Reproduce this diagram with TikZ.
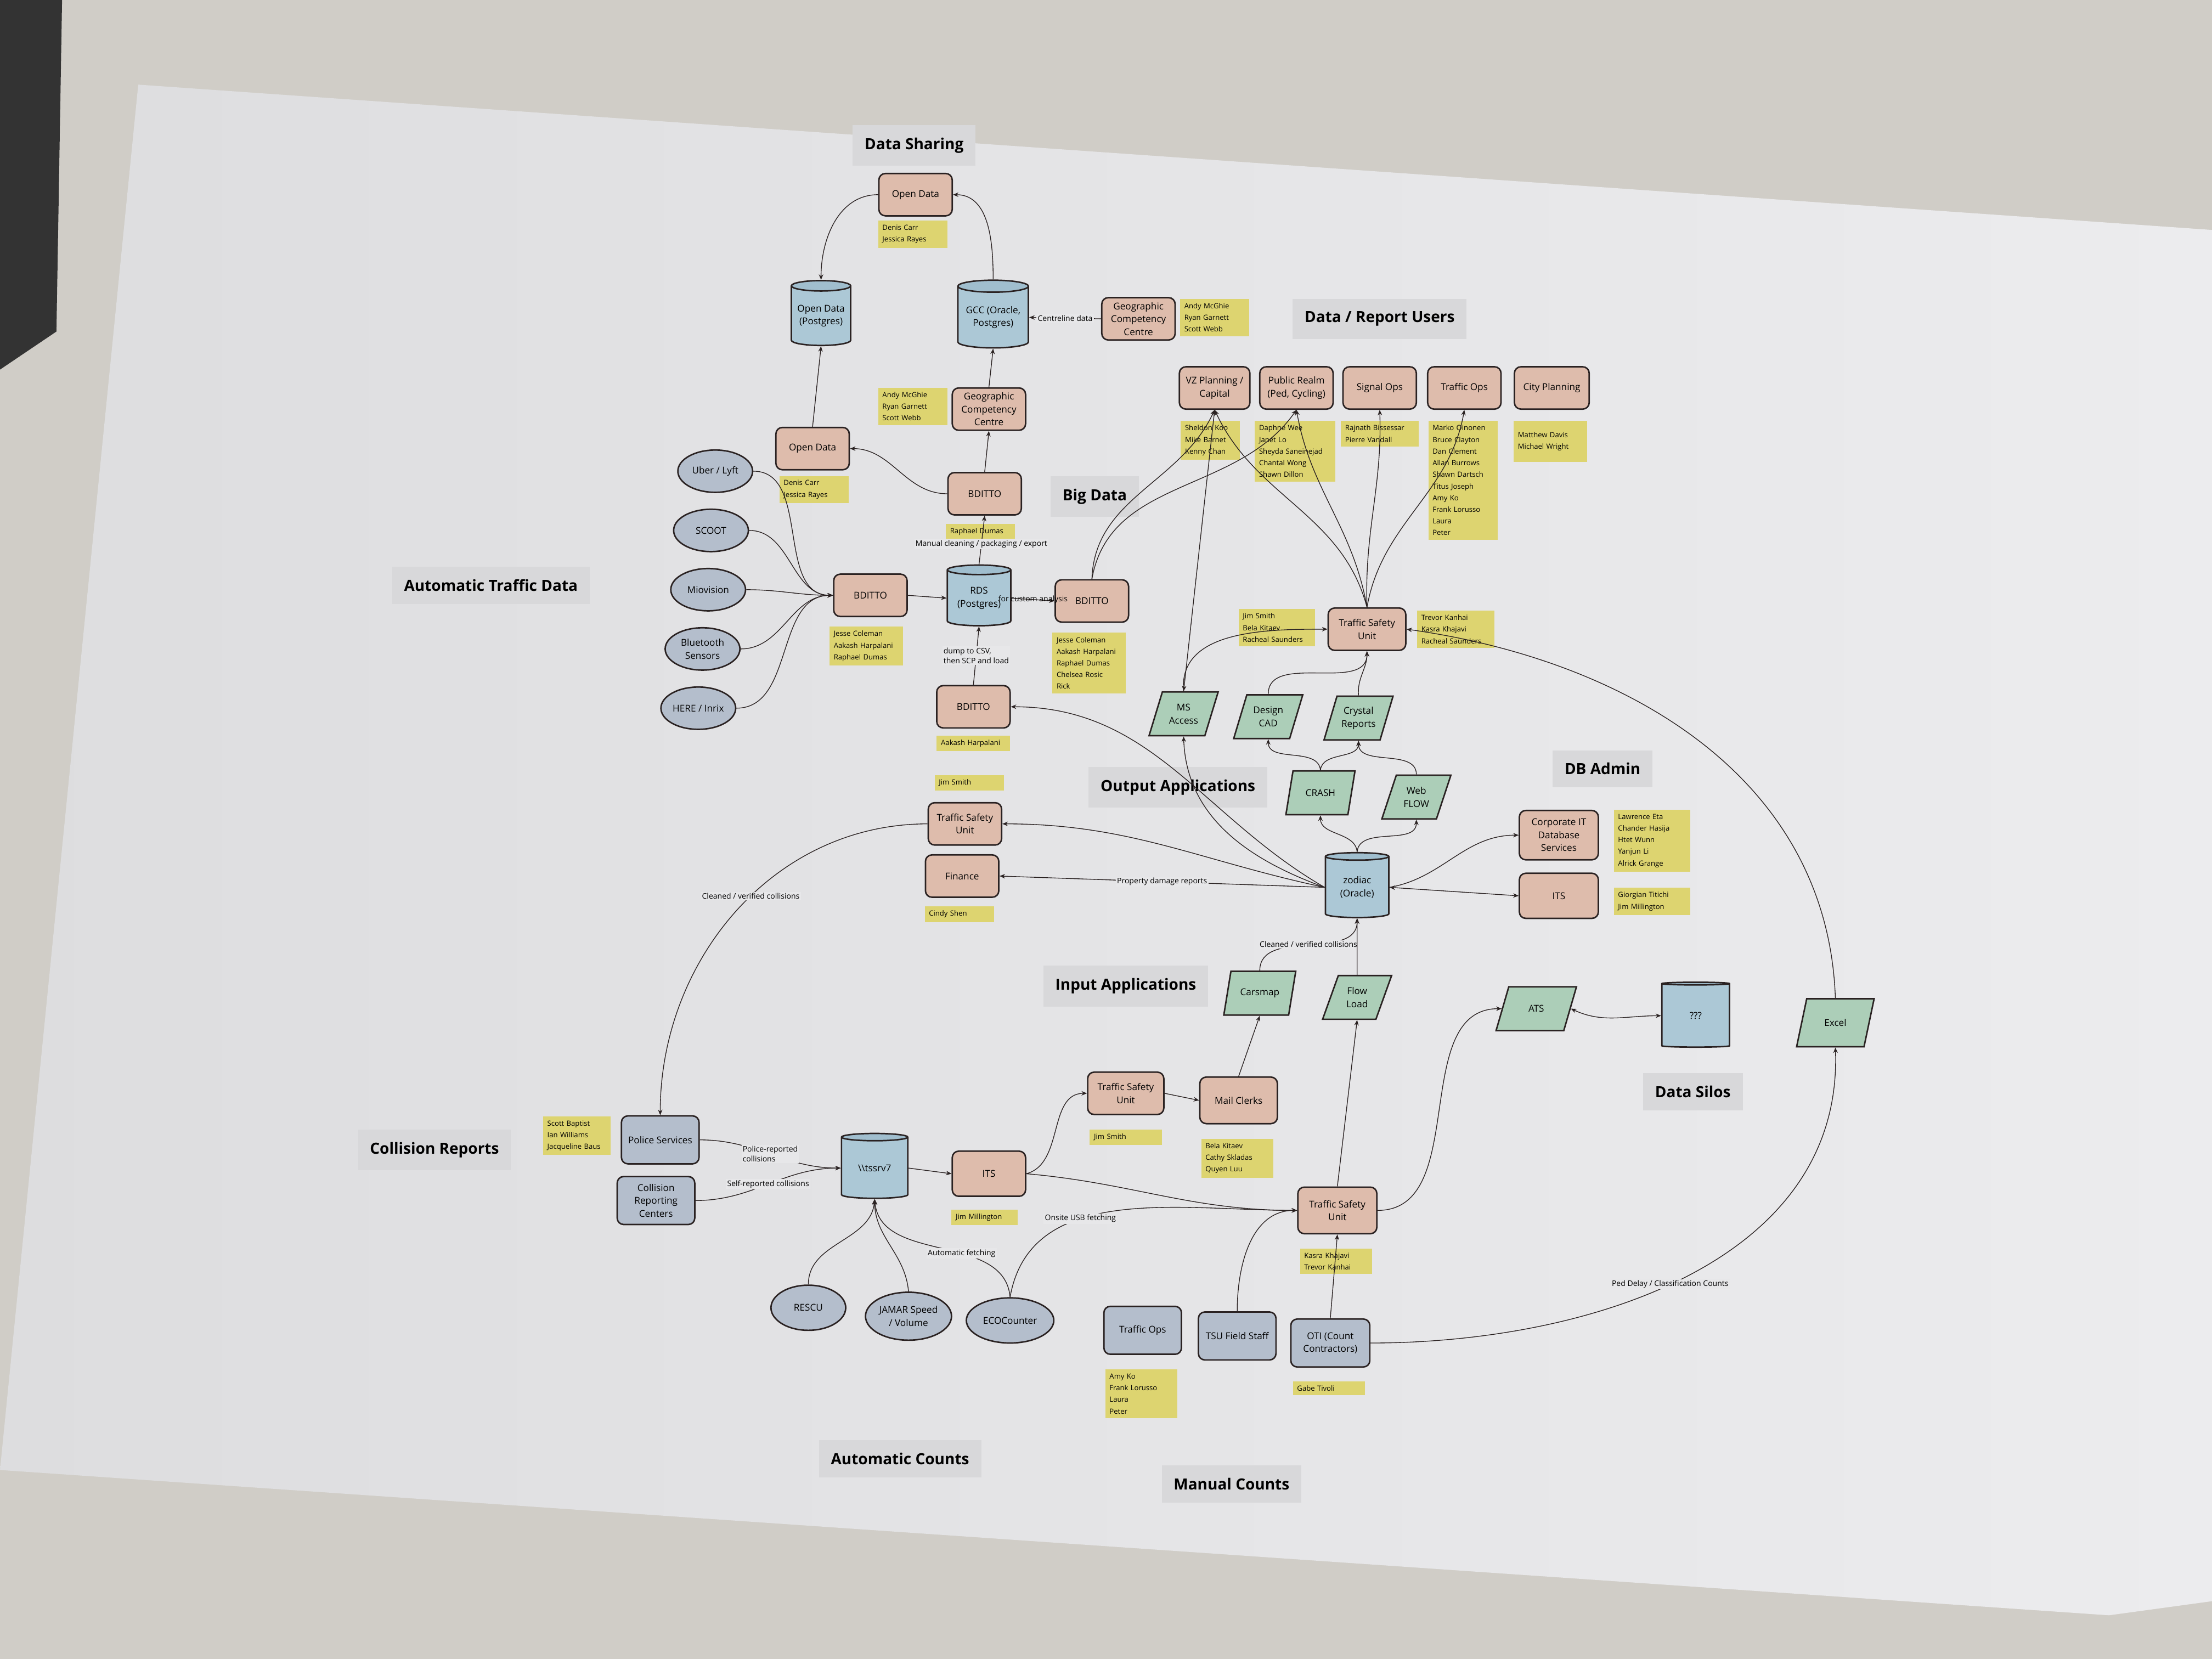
\documentclass[tikz,border=0pt]{standalone}
\usepackage{fontspec}
\setmainfont{Open Sans}
\usepackage{tikz}
\usetikzlibrary{shapes.geometric, arrows.meta, positioning}
\definecolor{wallgray}{RGB}{208,205,199}
\definecolor{papergray}{RGB}{231,231,233}
\definecolor{paperleft}{RGB}{221,221,223}
\definecolor{paperright}{RGB}{236,236,238}
\definecolor{hdrgray}{RGB}{216,216,218}
\definecolor{teamfill}{RGB}{222,188,172}
\definecolor{srcfill}{RGB}{180,190,204}
\definecolor{dbfill}{RGB}{172,200,214}
\definecolor{dbtop}{RGB}{160,190,206}
\definecolor{appfill}{RGB}{172,206,184}
\definecolor{notefill}{RGB}{221,212,112}
\definecolor{inkdark}{RGB}{42,34,34}
\newcommand{\nodefont}{\fontsize{3.8}{5.2}\selectfont}
\newcommand{\namefont}{\fontsize{2.9}{4.7}\selectfont}
\newcommand{\edgefont}{\fontsize{3.1}{4.1}\selectfont}
\newcommand{\titlefont}{\fontsize{6.2}{7}\selectfont\bfseries}
\tikzset{
  team/.style={rectangle, rounded corners=2.6pt, draw=inkdark, fill=teamfill,
    line width=0.6pt, minimum width=1.04cm, minimum height=0.6cm,
    align=center, font=\nodefont, inner sep=1pt},
  source/.style={team, fill=srcfill, minimum width=1.1cm, minimum height=0.68cm},
  feed/.style={ellipse, draw=inkdark, fill=srcfill, line width=0.6pt,
    minimum width=1.06cm, minimum height=0.6cm, align=center, font=\nodefont, inner sep=0pt},
  app/.style={trapezium, trapezium stretches=true, trapezium left angle=66,
    trapezium right angle=114, draw=inkdark, fill=appfill, line width=0.6pt,
    minimum width=0.98cm, minimum height=0.62cm, align=center, font=\nodefont, inner sep=0.5pt},
  dbase/.style={cylinder, shape border rotate=90, aspect=0.22, draw=inkdark,
    line width=0.6pt, cylinder uses custom fill, cylinder body fill=dbfill,
    cylinder end fill=dbtop, minimum width=0.9cm, minimum height=0.92cm,
    align=center, font=\nodefont, inner sep=0pt},
  names/.style={rectangle, fill=notefill, text width=#1, align=left,
    font=\namefont, inner xsep=0.06cm, inner ysep=0.06cm},
  names/.default=0.86cm,
  header/.style={rectangle, fill=hdrgray, font=\titlefont, inner xsep=0.17cm, inner ysep=0.18cm},
  arrow/.style={arrows={-Stealth[length=2.2pt,width=1.8pt]}, line width=0.3pt, draw=inkdark},
  twoway/.style={arrows={Stealth[length=2.2pt,width=1.8pt]-Stealth[length=2.2pt,width=1.8pt]}, line width=0.3pt, draw=inkdark},
  edgetext/.style={font=\edgefont, fill=papergray, inner sep=0.5pt}
}

\begin{document}
\begin{tikzpicture}[x=0.02cm, y=-0.02cm]
  \useasboundingbox (0,0) rectangle (1568,1176);
  % wall and poster
  \fill[wallgray] (0,0) rectangle (1568,1176);
  \fill[black!80] (0,0) -- (44,0) -- (40,235) -- (0,262) -- cycle;
  \shade[left color=paperleft, right color=paperright] (98,60) -- (1568,163) -- (1568,1135) -- (1495,1145) -- (0,1042) -- cycle;

  % Data Sharing
  \node[header] (hshare) at (648,103) {Data Sharing};
  \node[team] (odtop) at (649,138) {Open Data};
  \node[names] (nodtop) at (647,166) {Denis Carr\\Jessica Rayes};
  \node[dbase, minimum width=0.84cm] (odpg) at (582,224) {Open Data\\(Postgres)};
  \node[dbase, minimum width=1.0cm, minimum height=0.96cm] (gcc) at (704,225) {GCC (Oracle,\\Postgres)};
  \node[team] (geotop) at (807,226) {Geographic\\Competency\\Centre};
  \node[names] (ngeotop) at (861,225) {Andy McGhie\\Ryan Garnett\\Scott Webb};
  \node[team] (odmid) at (576,318) {Open Data};
  \node[names] (nodmid) at (577,347) {Denis Carr\\Jessica Rayes};
  \node[team] (geomid) at (701,290) {Geographic\\Competency\\Centre};
  \node[names] (ngeomid) at (647,288) {Andy McGhie\\Ryan Garnett\\Scott Webb};

  % Big Data
  \node[header] (hbig) at (776,352) {Big Data};
  \node[team] (bdexp) at (698,350) {BDITTO};
  \node[names] (nbdexp) at (695,377) {Raphael Dumas};
  \node[dbase, minimum height=0.86cm] (rds) at (694,424) {RDS\\(Postgres)};
  \node[team] (bdin) at (617,422) {BDITTO};
  \node[names=0.92cm] (nbdin) at (614,458) {Jesse Coleman\\Aakash Harpalani\\Raphael Dumas};
  \node[team] (bdan) at (774,426) {BDITTO};
  \node[names=0.92cm] (nbdan) at (772,470) {Jesse Coleman\\Aakash Harpalani\\Raphael Dumas\\Chelsea Rosic\\Rick};
  \node[team] (bdload) at (690,501) {BDITTO};
  \node[names=0.92cm] (nbdload) at (690,527) {Aakash Harpalani};

  % Automatic Traffic Data
  \node[header] (hatd) at (348,415) {Automatic Traffic Data};
  \node[feed] (uber) at (507,334) {Uber / Lyft};
  \node[feed] (scoot) at (504,376) {SCOOT};
  \node[feed] (mio) at (502,418) {Miovision};
  \node[feed] (bt) at (498,460) {Bluetooth\\Sensors};
  \node[feed] (here) at (495,502) {HERE / Inrix};

  % Data / Report Users
  \node[header] (husers) at (978,226) {Data / Report Users};
  \node[team, minimum width=1.0cm] (vz) at (861,275) {VZ Planning /\\Capital};
  \node[team, minimum width=1.04cm] (realm) at (919,275) {Public Realm\\(Ped, Cycling)};
  \node[team, minimum width=1.04cm] (sigops) at (978,275) {Signal Ops};
  \node[team, minimum width=1.04cm] (trops) at (1038,275) {Traffic Ops};
  \node[team, minimum width=1.06cm] (cityp) at (1100,275) {City Planning};
  \node[names=0.72cm, anchor=north] (nvz) at (858,298) {Sheldon Koo\\Mike Barnet\\Kenny Chan};
  \node[names=1.02cm, anchor=north] (nrealm) at (918,298) {Daphne Wee\\Janet Lo\\Sheyda Saneinejad\\Chantal Wong\\Shawn Dillon};
  \node[names=0.98cm, anchor=north] (nsig) at (978,298) {Rajnath Bissessar\\Pierre Vandall};
  \node[names=0.86cm, anchor=north] (ntrops) at (1037,298) {Marko Oinonen\\Bruce Clayton\\Dan Clement\\Allan Burrows\\Shawn Dartsch\\Titus Joseph\\Amy Ko\\Frank Lorusso\\Laura\\Peter};
  \node[names=0.92cm, anchor=north, minimum height=0.58cm] (ncity) at (1099,298) {Matthew Davis\\Michael Wright};

  % Traffic Safety Unit (outputs)
  \node[team, minimum width=1.1cm] (tsuout) at (969,446) {Traffic Safety\\Unit};
  \node[names=0.96cm] (ntsuoutl) at (905,445) {Jim Smith\\Bela Kitaev\\Racheal Saunders};
  \node[names=0.98cm] (ntsuoutr) at (1032,446) {Trevor Kanhai\\Kasra Khajavi\\Racheal Saunders};

  % Output Applications
  \node[header] (hout) at (835,558) {Output Applications};
  \node[app] (msacc) at (839,506) {MS\\Access};
  \node[app] (cad) at (899,508) {Design\\CAD};
  \node[app] (crystal) at (963,509) {Crystal\\Reports};
  \node[app] (crash) at (936,562) {CRASH};
  \node[app] (webflow) at (1004,565) {Web\\FLOW};

  % zodiac hub
  \node[names] (ntsucr) at (687,555) {Jim Smith};
  \node[team] (tsucr) at (684,584) {Traffic Safety\\Unit};
  \node[team] (fin) at (682,621) {Finance};
  \node[names] (nfin) at (680,648) {Cindy Shen};
  \node[dbase] (zodiac) at (962,629) {zodiac\\(Oracle)};

  % DB Admin
  \node[header] (hdba) at (1136,545) {DB Admin};
  \node[team, minimum width=1.12cm, minimum height=0.7cm] (corpit) at (1105,592) {Corporate IT\\Database\\Services};
  \node[names=0.96cm] (ncorpit) at (1171,596) {Lawrence Eta\\Chander Hasija\\Htet Wunn\\Yanjun Li\\Alrick Grange};
  \node[team, minimum width=1.12cm, minimum height=0.64cm] (itsdba) at (1105,635) {ITS};
  \node[names=0.96cm] (nitsdba) at (1171,639) {Giorgian Titichi\\Jim Millington};

  % Input Applications
  \node[header] (hin) at (798,699) {Input Applications};
  \node[app, minimum width=1.02cm] (carsmap) at (893,704) {Carsmap};
  \node[app] (flowload) at (962,707) {Flow\\Load};
  \node[team, minimum width=1.08cm] (tsumail) at (798,775) {Traffic Safety\\Unit};
  \node[names=0.9cm] (ntsumail) at (798,806) {Jim Smith};
  \node[team, minimum width=1.1cm, minimum height=0.66cm] (mail) at (878,780) {Mail Clerks};
  \node[names=0.9cm] (nmail) at (877,821) {Bela Kitaev\\Cathy Skladas\\Quyen Luu};

  % Data Silos
  \node[header] (hsilo) at (1200,774) {Data Silos};
  \node[app, minimum width=1.14cm] (ats) at (1089,715) {ATS};
  \node[dbase, minimum width=0.96cm] (unknown) at (1202,720) {???};
  \node[app, minimum width=1.1cm, minimum height=0.68cm] (excel) at (1301,725) {Excel};

  % Collision Reports
  \node[header] (hcoll) at (308,815) {Collision Reports};
  \node[names=0.84cm] (npolice) at (409,805) {Scott Baptist\\Ian Williams\\Jacqueline Baus};
  \node[source] (police) at (468,808) {Police Services};
  \node[source] (crc) at (465,851) {Collision\\Reporting\\Centers};
  \node[dbase, minimum width=0.94cm] (tssrv) at (620,828) {\textbackslash\textbackslash tssrv7};
  \node[team, minimum height=0.64cm] (itscoll) at (701,832) {ITS};
  \node[names=0.82cm] (nitscoll) at (698,863) {Jim Millington};
  \node[team, minimum width=1.12cm, minimum height=0.66cm] (tsucount) at (948,858) {Traffic Safety\\Unit};
  \node[names=0.9cm] (ntsucount) at (947,894) {Kasra Khajavi\\Trevor Kanhai};

  % Automatic Counts
  \node[header] (hauto) at (638,1034) {Automatic Counts};
  \node[feed, minimum height=0.64cm] (rescu) at (573,927) {RESCU};
  \node[feed, minimum width=1.22cm, minimum height=0.68cm] (jamar) at (644,933) {JAMAR Speed\\/ Volume};
  \node[feed, minimum width=1.24cm, minimum height=0.64cm] (eco) at (716,936) {ECOCounter};

  % Manual Counts
  \node[header] (hman) at (873,1052) {Manual Counts};
  \node[source] (tropsman) at (810,943) {Traffic Ops};
  \node[names=0.9cm] (ntropsman) at (809,988) {Amy Ko\\Frank Lorusso\\Laura\\Peter};
  \node[source] (tsufield) at (877,947) {TSU Field Staff};
  \node[source, minimum width=1.12cm] (oti) at (943,952) {OTI (Count\\Contractors)};
  \node[names=0.9cm] (noti) at (942,984) {Gabe Tivoli};

  % Sharing paths
  \draw[arrow] (gcc.north) to[out=90, in=0] (odtop.east);
  \draw[arrow] (odtop.west) to[out=180, in=90] (odpg.north);
  \draw[arrow] (geotop.west) -- (gcc.east) node[midway, edgetext] {Centreline data};
  \draw[arrow] (odmid.north) -- (odpg.south);
  \draw[arrow] (geomid.north) -- (gcc.south);
  \draw[arrow] (bdexp.north) -- (geomid.south);
  \draw[arrow] (bdexp.west) to[out=180, in=0] (odmid.east);

  % Big Data paths
  \draw[arrow] (rds.north) -- (bdexp.south) node[pos=0.42, edgetext] {Manual cleaning / packaging / export};
  \draw[arrow] (bdin.east) -- (rds.west);
  \foreach \src in {uber, scoot, mio, bt, here}
    \draw[arrow] (\src.east) to[out=0, in=180] (bdin.west);
  \draw[arrow] (rds.east) -- (bdan.west) node[midway, font=\edgefont] {for custom analysis};
  \draw[arrow] (bdload.north) -- (rds.south) node[midway, edgetext, align=left] {dump to CSV,\\then SCP and load};
  \draw[arrow] (bdan.north) to[out=88, in=245] (vz.south);
  \draw[arrow] (bdan.north) to[out=80, in=235] (realm.south);

  % Report users
  \draw[arrow] (tsuout.north) to[out=105, in=-65] (vz.south);
  \draw[arrow] (tsuout.north) to[out=100, in=-80] (realm.south);
  \draw[arrow] (tsuout.north) to[out=92, in=-88] (sigops.south);
  \draw[arrow] (tsuout.north) to[out=80, in=-100] (trops.south);
  \draw[twoway] (msacc.north) -- (vz.south);
  \draw[arrow] (msacc.north) to[out=95, in=180] (tsuout.west);
  \draw[arrow] (cad.north) to[out=90, in=-90] (tsuout.south);
  \draw[arrow] (crystal.north) to[out=95, in=-90] (tsuout.south);
  \draw[arrow] (excel.north) to[out=92, in=-8] (tsuout.east);

  % Output apps
  \draw[arrow] (crash.north) to[out=95, in=-90] (cad.south);
  \draw[arrow] (crash.north) to[out=85, in=-90] (crystal.south);
  \draw[arrow] (webflow.north) to[out=90, in=-90] (crystal.south);
  \draw[arrow] (zodiac.north) to[out=95, in=-90] (crash.south);
  \draw[arrow] (zodiac.north) to[out=85, in=-90] (webflow.south);
  \draw[arrow] (zodiac.west) to[out=160, in=-88] (msacc.south);
  \draw[arrow] (zodiac.west) to[out=150, in=0] (bdload.east);
  \draw[arrow] (zodiac.west) to[out=168, in=0] (tsucr.east);
  \draw[arrow] (zodiac.west) -- (fin.east) node[pos=0.5, edgetext] {Property damage reports};
  \draw[arrow] (zodiac.east) to[out=10, in=180] (corpit.west);
  \draw[twoway] (zodiac.east) -- (itsdba.west);

  % Input apps
  \draw[arrow] (carsmap.north) to[out=90, in=-90] node[pos=0.5, edgetext] {Cleaned / verified collisions} (zodiac.south);
  \draw[arrow] (flowload.north) to[out=90, in=-90] (zodiac.south);
  \draw[arrow] (tsumail.east) -- (mail.west);
  \draw[arrow] (mail.north) -- (carsmap.south);
  \draw[arrow] (itscoll.east) to[out=15, in=180] (tsumail.west);
  \draw[arrow] (itscoll.east) to[out=-5, in=180] (tsucount.west);
  \draw[arrow] (tsucount.north) -- (flowload.south);

  % Data silos
  \draw[arrow] (tsucount.east) to[out=0, in=180] (ats.west);
  \draw[twoway] (ats.east) to[out=-25, in=180] (unknown.west);
  \draw[arrow] (oti.east) to[out=0, in=-88] node[pos=0.47, edgetext] {Ped Delay / Classification Counts} (excel.south);

  % Collision reports
  \draw[arrow] (police.east) to[out=0, in=180] node[pos=0.5, edgetext, align=left] {Police-reported\\collisions} (tssrv.west);
  \draw[arrow] (crc.east) to[out=0, in=180] node[pos=0.5, edgetext] {Self-reported collisions} (tssrv.west);
  \draw[arrow] (tssrv.east) -- (itscoll.west);
  \draw[arrow] (tsucr.west) to[out=180, in=90] node[pos=0.45, edgetext] {Cleaned / verified collisions} (police.north);

  % Counts
  \draw[arrow] (rescu.north) to[out=90, in=-95] (tssrv.south);
  \draw[arrow] (jamar.north) to[out=95, in=-90] (tssrv.south);
  \draw[arrow] (eco.north) to[out=95, in=-85] node[pos=0.4, edgetext] {Automatic fetching} (tssrv.south);
  \draw[arrow] (eco.north) to[out=80, in=180] node[pos=0.38, edgetext] {Onsite USB fetching} (tsucount.west);
  \draw[arrow] (tsufield.north) to[out=90, in=180] (tsucount.west);
  \draw[arrow] (oti.north) -- (tsucount.south);
\end{tikzpicture}
\end{document}
